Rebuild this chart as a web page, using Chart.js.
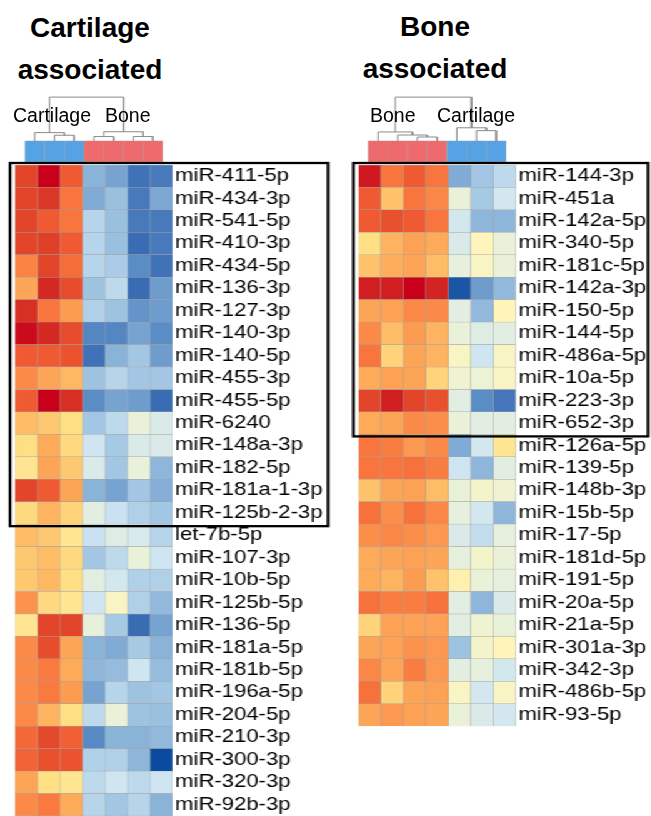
<!DOCTYPE html>
<html>
<head>
<meta charset="utf-8">
<script src="https://cdn.jsdelivr.net/npm/chart.js@4.4.1/dist/chart.umd.min.js"></script>
<style>
  html, body { margin: 0; padding: 0; background: #fff; overflow: hidden; width: 651px; height: 816px; }
  /* heatmap panels are stretched horizontally like in the source figure */
  .panel { position: absolute; top: 0; transform: scaleX(1.25); transform-origin: 0 0; }
  .panel canvas { position: absolute; }
  .title { position: absolute; width: 220px; text-align: center; color: #000;
           font: bold 28px "Liberation Sans", Arial, sans-serif; line-height: 42px; }
  .grp { position: absolute; color: #000; white-space: nowrap;
         font: 19.5px "Liberation Sans", Arial, sans-serif; line-height: 22px; }
</style>
</head>
<body>
<div class="title" style="left:-20px; top:7px">Cartilage<br>associated</div>
<div class="title" style="left:325px; top:6px">Bone<br>associated</div>

<div class="panel" style="left:0px">
  <canvas id="dendL" width="140" height="66" style="left:0; top:96px"></canvas>
  <canvas id="heatL" width="266" height="656" style="left:0; top:160px"></canvas>
</div>
<div class="panel" style="left:350px">
  <canvas id="dendR" width="140" height="66" style="left:0; top:96px"></canvas>
  <canvas id="heatR" width="241" height="570" style="left:0; top:160px"></canvas>
</div>

<div class="grp" style="left:13px; top:104px">Cartilage</div>
<div class="grp" style="left:105px; top:104px">Bone</div>
<div class="grp" style="left:370px; top:104px">Bone</div>
<div class="grp" style="left:437px; top:104px">Cartilage</div>

<script>
// ---------- Data ----------
// Left heatmap: cartilage associated miRNAs
const leftGroups = ["Cartilage", "Cartilage", "Cartilage", "Bone", "Bone", "Bone", "Bone"];
const leftRows = [
  "miR-411-5p", "miR-434-3p", "miR-541-5p", "miR-410-3p", "miR-434-5p", "miR-136-3p",
  "miR-127-3p", "miR-140-3p", "miR-140-5p", "miR-455-3p", "miR-455-5p", "miR-6240",
  "miR-148a-3p", "miR-182-5p", "miR-181a-1-3p", "miR-125b-2-3p", "let-7b-5p", "miR-107-3p",
  "miR-10b-5p", "miR-125b-5p", "miR-136-5p", "miR-181a-5p", "miR-181b-5p", "miR-196a-5p",
  "miR-204-5p", "miR-210-3p", "miR-300-3p", "miR-320-3p", "miR-92b-3p"
];
const leftValues = [
  [2.2, 3.0, 1.9, -1.0, -1.2, -1.9, -1.8],
  [2.2, 2.4, 1.6, -1.1, -0.8, -1.8, -1.15],
  [2.2, 1.9, 1.6, -0.5, -0.8, -1.8, -1.8],
  [2.2, 2.3, 1.9, -0.5, -0.8, -2.0, -1.8],
  [1.4, 2.2, 1.7, -0.5, -0.6, -1.5, -1.9],
  [1.0, 2.6, 2.1, -0.75, -0.45, -2.0, -1.3],
  [2.5, 1.6, 1.1, -0.55, -0.75, -1.4, -1.3],
  [2.9, 2.6, 2.1, -1.6, -1.6, -1.2, -1.5],
  [1.9, 1.9, 2.0, -1.9, -1.0, -0.7, -1.3],
  [1.3, 1.0, 0.8, -0.75, -0.5, -0.7, -0.7],
  [1.9, 3.0, 2.5, -1.5, -1.2, -1.3, -2.0],
  [0.75, 0.65, 0.45, -0.7, -0.45, 0.05, -0.15],
  [0.45, 0.95, 0.5, -0.3, -0.65, -0.15, -0.15],
  [0.4, 1.0, 0.65, -0.15, -0.7, 0.05, -0.95],
  [2.2, 1.9, 1.0, -1.0, -1.2, -0.7, -1.05],
  [0.5, 0.85, 0.55, -0.05, -0.35, -0.55, -0.7],
  [0.75, 0.65, 0.4, -0.35, -0.1, -0.2, -0.5],
  [0.65, 0.75, 0.5, -0.7, -0.45, 0.05, -0.3],
  [0.65, 0.8, 0.45, -0.05, -0.25, -0.55, -0.55],
  [1.2, 0.5, 0.4, -0.3, 0.2, -0.55, -0.9],
  [0.4, 2.2, 2.2, 0.0, -0.65, -2.0, -1.2],
  [1.3, 2.1, 1.0, -1.0, -1.1, -0.65, -1.0],
  [1.3, 1.55, 0.95, -0.95, -0.85, -0.3, -0.85],
  [1.3, 1.55, 1.1, -1.2, -0.5, -0.75, -0.7],
  [1.3, 0.85, 0.45, -0.45, 0.05, -0.75, -0.8],
  [1.75, 2.15, 1.85, -1.55, -1.0, -1.0, -0.9],
  [1.8, 2.05, 2.0, -0.55, -0.55, -0.95, -2.9],
  [1.0, 0.45, 0.4, -0.45, -0.3, -0.45, -0.3],
  [1.3, 1.55, 0.95, -0.5, -0.7, -0.5, -1.0]
];
// hclust style merges: [childA, childB, height], negative = leaf (1-based)
const leftMerges = [[-2, -3, 1.3], [-1, 1, 1.9], [-4, -5, 1.0], [-6, -7, 1.0], [3, 4, 2.1], [2, 5, 10]];
const leftBoxRows = [0, 15];

// Right heatmap: bone associated miRNAs
const rightGroups = ["Bone", "Bone", "Bone", "Bone", "Cartilage", "Cartilage", "Cartilage"];
const rightRows = [
  "miR-144-3p", "miR-451a", "miR-142a-5p", "miR-340-5p", "miR-181c-5p", "miR-142a-3p",
  "miR-150-5p", "miR-144-5p", "miR-486a-5p", "miR-10a-5p", "miR-223-3p", "miR-652-3p",
  "miR-126a-5p", "miR-139-5p", "miR-148b-3p", "miR-15b-5p", "miR-17-5p", "miR-181d-5p",
  "miR-191-5p", "miR-20a-5p", "miR-21a-5p", "miR-301a-3p", "miR-342-3p", "miR-486b-5p",
  "miR-93-5p"
];
const rightValues = [
  [2.75, 1.6, 1.9, 1.6, -1.1, -0.7, -0.45],
  [1.9, 0.7, 1.6, 1.35, 0.05, -0.65, -0.25],
  [1.9, 2.05, 1.9, 1.6, -0.25, -0.95, -0.95],
  [0.45, 0.85, 1.05, 0.95, -0.15, 0.25, 0.05],
  [0.7, 0.9, 1.0, 0.75, 0.0, 0.2, 0.05],
  [2.7, 2.7, 3.0, 2.65, -2.6, -1.3, -0.9],
  [1.0, 1.05, 1.3, 1.3, -0.05, -0.9, 0.25],
  [1.3, 0.75, 1.1, 0.85, 0.05, -0.1, -0.05],
  [1.6, 0.55, 1.0, 0.85, 0.2, -0.3, 0.2],
  [0.95, 1.05, 1.0, 0.55, 0.12, 0.08, 0.2],
  [2.2, 2.7, 2.2, 2.05, -0.05, -1.5, -1.85],
  [0.95, 1.0, 1.3, 1.25, 0.05, -0.05, -0.05],
  [1.6, 1.5, 1.15, 1.3, -1.1, -0.25, 0.4],
  [1.6, 1.6, 1.65, 1.5, -0.3, -0.95, -0.05],
  [0.7, 1.0, 1.05, 0.75, 0.05, 0.15, 0.12],
  [1.65, 1.25, 1.65, 1.35, 0.0, -0.25, -0.95],
  [1.25, 1.35, 1.25, 1.15, -0.15, -0.4, 0.0],
  [0.95, 1.0, 1.05, 1.0, 0.0, 0.15, 0.05],
  [0.95, 0.85, 1.1, 0.7, 0.3, 0.05, 0.0],
  [1.65, 1.5, 1.5, 1.65, -0.05, -0.95, -0.15],
  [0.55, 1.05, 1.05, 1.05, -0.05, 0.12, 0.05],
  [1.0, 1.05, 1.2, 1.15, -0.75, 0.15, 0.25],
  [1.35, 1.0, 1.5, 1.15, -0.05, 0.0, -0.25],
  [1.65, 0.55, 1.0, 1.05, 0.2, -0.25, 0.2],
  [1.0, 1.15, 1.05, 1.0, 0.05, -0.15, -0.25]
];
const rightMerges = [[-3, -4, 0.9], [-2, 1, 1.35], [-1, 2, 2.05], [-6, -7, 2.35], [-5, 4, 3.0], [3, 5, 10]];
const rightBoxRows = [0, 11];

// ---------- Styles ----------
const groupColors = { Cartilage: "#55A3E4", Bone: "#EE6A6C" };
const paletteStops = [
  [-2.9, "#0B4A9E"], [-2.0, "#3A6CB3"], [-1.5, "#5A8CC6"], [-1.0, "#8AB3D8"],
  [-0.6, "#AACCE6"], [-0.3, "#CFE5F2"], [-0.05, "#E2EEE2"], [0.1, "#EEF3D4"],
  [0.25, "#FFF5BA"], [0.45, "#FEDF84"], [0.75, "#FEBC66"], [1.0, "#FDA556"],
  [1.3, "#FB8A48"], [1.6, "#F8763D"], [1.9, "#F05A32"], [2.2, "#E24529"],
  [2.6, "#D42822"], [3.0, "#C8001A"]
];
const cellBorder = "#a3a3a3";
const dendroColor = "#8a8a8a";
const labelFont = { family: "'Liberation Sans', Arial, sans-serif", size: 17.7 };

function hexToRgb(h) {
  return [1, 3, 5].map(i => parseInt(h.substr(i, 2), 16));
}

function valueColor(v) {
  if (v <= paletteStops[0][0]) return paletteStops[0][1];
  for (let i = 1; i < paletteStops.length; i++) {
    const [v1, c1] = paletteStops[i];
    if (v <= v1) {
      const [v0, c0] = paletteStops[i - 1];
      const t = (v - v0) / (v1 - v0);
      const a = hexToRgb(c0), b = hexToRgb(c1);
      const rgb = a.map((x, k) => Math.round(x + (b[k] - x) * t));
      return "rgb(" + rgb.join(",") + ")";
    }
  }
  return paletteStops[paletteStops.length - 1][1];
}

// Outline around the highlighted rows
const boxPlugin = {
  id: "box",
  afterDatasetsDraw(chart, args, o) {
    const y = chart.scales.y;
    const ctx = chart.ctx;
    const half = (y.getPixelForValue(1) - y.getPixelForValue(0)) / 2;
    const top = y.getPixelForValue(o.rows[0]) - half - 2;
    const bottom = y.getPixelForValue(o.rows[1]) + half + 2;
    ctx.save();
    ctx.strokeStyle = "#000";
    ctx.lineWidth = 2.3;
    ctx.strokeRect(o.left, top, o.right - o.left, bottom - top);
    ctx.restore();
  }
};

// Heatmap: one floating bar dataset per sample column
function drawHeatmap(id, rows, values, boxRows, pad, axisWidth, boxLeft, boxRight) {
  const nCol = values[0].length;
  const datasets = [];
  for (let j = 0; j < nCol; j++) {
    datasets.push({
      data: rows.map(() => [j, j + 1]),
      backgroundColor: values.map(r => valueColor(r[j])),
      borderColor: cellBorder,
      borderWidth: 0.5,
      borderSkipped: false,
      barPercentage: 1,
      categoryPercentage: 1,
      grouped: false
    });
  }
  new Chart(document.getElementById(id), {
    type: "bar",
    data: { labels: rows, datasets: datasets },
    options: {
      indexAxis: "y",
      responsive: false,
      animation: false,
      devicePixelRatio: 1,
      layout: { padding: pad },
      plugins: {
        legend: { display: false },
        tooltip: { enabled: false },
        box: { rows: boxRows, left: boxLeft, right: boxRight }
      },
      scales: {
        x: { type: "linear", min: 0, max: nCol, display: false },
        y: {
          position: "right",
          grid: { display: false, drawTicks: false },
          border: { display: false },
          ticks: { color: "#000", font: labelFont, padding: 2, autoSkip: false },
          afterFit: s => {
            s.width = axisWidth;
            // rows fill the whole area; no extra room for half labels
            s.paddingTop = 0;
            s.paddingBottom = 0;
          }
        }
      }
    },
    plugins: [boxPlugin]
  });
}

// Dendrogram + column annotation bar
function drawDendrogram(id, groups, merges, padL, padR) {
  const n = groups.length;
  const nodes = [];
  const pos = c => (c < 0 ? { x: -c - 0.5, h: 0 } : nodes[c - 1]);
  const datasets = [];
  merges.forEach(([a, b, h]) => {
    const A = pos(a), B = pos(b);
    datasets.push({
      type: "line",
      data: [{ x: A.x, y: A.h }, { x: A.x, y: h }, { x: B.x, y: h }, { x: B.x, y: B.h }],
      borderColor: dendroColor,
      borderWidth: 1,
      pointRadius: 0,
      fill: false,
      tension: 0
    });
    nodes.push({ x: (A.x + B.x) / 2, h: h });
  });
  datasets.push({
    type: "bar",
    data: groups.map((g, i) => ({ x: i + 0.5, y: [-4.8, 0] })),
    backgroundColor: groups.map(g => groupColors[g]),
    borderColor: cellBorder,
    borderWidth: 0.5,
    borderSkipped: false,
    barPercentage: 1,
    categoryPercentage: 1
  });
  new Chart(document.getElementById(id), {
    type: "bar",
    data: { datasets: datasets },
    options: {
      responsive: false,
      animation: false,
      devicePixelRatio: 1,
      layout: { padding: { left: padL, right: padR, top: 0, bottom: 0 } },
      plugins: { legend: { display: false }, tooltip: { enabled: false } },
      scales: {
        x: { type: "linear", min: 0, max: n, display: false, ticks: { stepSize: 1 } },
        y: { min: -4.8, max: 10.25, display: false }
      }
    }
  });
}

drawDendrogram("dendL", leftGroups, leftMerges, 12, 2);
drawHeatmap("heatL", leftRows, leftValues, leftBoxRows, { left: 12, top: 5, right: 0, bottom: 0 }, 128, 8, 262.4);

drawDendrogram("dendR", rightGroups, rightMerges, 6.64, 7.36);
drawHeatmap("heatR", rightRows, rightValues, rightBoxRows, { left: 6.64, top: 5, right: 0, bottom: 3.75 }, 108.36, 2.64, 238.4);
</script>
</body>
</html>
